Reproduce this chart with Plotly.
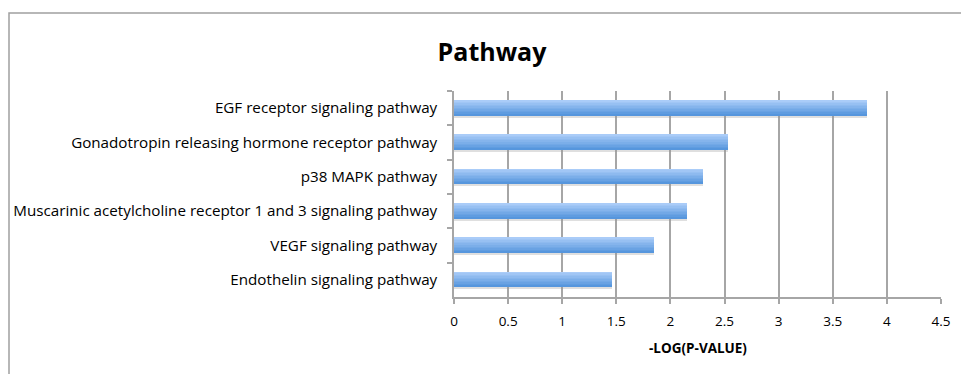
import plotly.graph_objects as go

# Enriched pathways and their significance scores
pathways = [
    "EGF receptor signaling pathway",
    "Gonadotropin releasing hormone receptor pathway",
    "p38 MAPK pathway",
    "Muscarinic acetylcholine receptor 1 and 3 signaling pathway",
    "VEGF signaling pathway",
    "Endothelin signaling pathway",
]
neg_log_p = [3.82, 2.53, 2.30, 2.15, 1.85, 1.46]
x_ticks = [0, 0.5, 1, 1.5, 2, 2.5, 3, 3.5, 4, 4.5]
x_tick_text = ["0", "0.5", "1", "1.5", "2", "2.5", "3", "3.5", "4", "4.5"]

W, H = 961, 374
L, R, T, B = 454, 941, 91, 297  # plot area in pixels
FONT = "Open Sans, Lato, sans-serif"

BAR_W = 0.44
N_SLICES = 10
TOP_RGB = (170, 204, 248)
BOT_RGB = (86, 150, 221)


def blend(t):
    return "rgb({},{},{})".format(*[round(a + (b - a) * t) for a, b in zip(TOP_RGB, BOT_RGB)])


fig = go.Figure()

# soft drop shadow beneath each bar
fig.add_trace(go.Bar(
    y=pathways, x=neg_log_p, orientation="h",
    width=BAR_W, offset=-BAR_W / 2 + 0.06,
    marker=dict(color="rgba(150,150,150,0.3)", line=dict(width=0)),
    hoverinfo="skip", showlegend=False,
))

# vertical light-to-dark gradient built from thin horizontal slices
for i in range(N_SLICES):
    fig.add_trace(go.Bar(
        y=pathways, x=neg_log_p, orientation="h",
        width=BAR_W / N_SLICES * 1.05,
        offset=-BAR_W / 2 + i * BAR_W / N_SLICES,
        marker=dict(color=blend(i / (N_SLICES - 1)), line=dict(width=0)),
        showlegend=False,
    ))

px2x = lambda px: (px - L) / (R - L)
px2y = lambda py: (B - py) / (B - T)

fig.update_layout(
    width=W, height=H,
    margin=dict(l=L, r=W - R, t=T, b=H - B, pad=0, autoexpand=False),
    paper_bgcolor="white", plot_bgcolor="white",
    barmode="overlay", bargap=0,
    font=dict(family=FONT, size=13, color="#000000"),
    title=dict(
        text="<b>Pathway</b>", xref="container", yref="container",
        x=492 / W, y=1 - 52 / H, xanchor="center", yanchor="middle",
        font=dict(family=FONT, size=25, color="#000000"),
    ),
    xaxis=dict(
        range=[0, 4.5], tickvals=x_ticks, ticktext=x_tick_text,
        showgrid=True, gridcolor="#a6a6a6", gridwidth=1.5,
        showline=True, linecolor="#a6a6a6", linewidth=1.5,
        ticks="outside", ticklen=5, tickcolor="#a6a6a6", tickwidth=1.5,
        ticklabelstandoff=6, zeroline=False, fixedrange=True, automargin=False,
        tickfont=dict(family=FONT, size=13.5, color="#000000"),
    ),
    yaxis=dict(
        autorange="reversed", categoryorder="array", categoryarray=pathways,
        showgrid=False, showline=True, linecolor="#a6a6a6", linewidth=1.5,
        ticks="outside", tickson="boundaries", ticklen=5,
        tickcolor="#a6a6a6", tickwidth=1.5, ticklabelstandoff=12,
        automargin=False,
        tickfont=dict(family=FONT, size=15.2, color="#000000"),
    ),
    annotations=[dict(
        text="<b>-LOG(P-VALUE)</b>", xref="paper", yref="paper",
        x=0.5, y=px2y(348), xanchor="center", yanchor="middle",
        showarrow=False, font=dict(family=FONT, size=13.5, color="#000000"),
    )],
    shapes=[dict(
        type="rect", xref="paper", yref="paper",
        x0=px2x(9), x1=px2x(975), y0=px2y(390), y1=px2y(13),
        line=dict(color="#a0a0a0", width=1.5), layer="below",
    )],
)

fig.write_html("out.html")
